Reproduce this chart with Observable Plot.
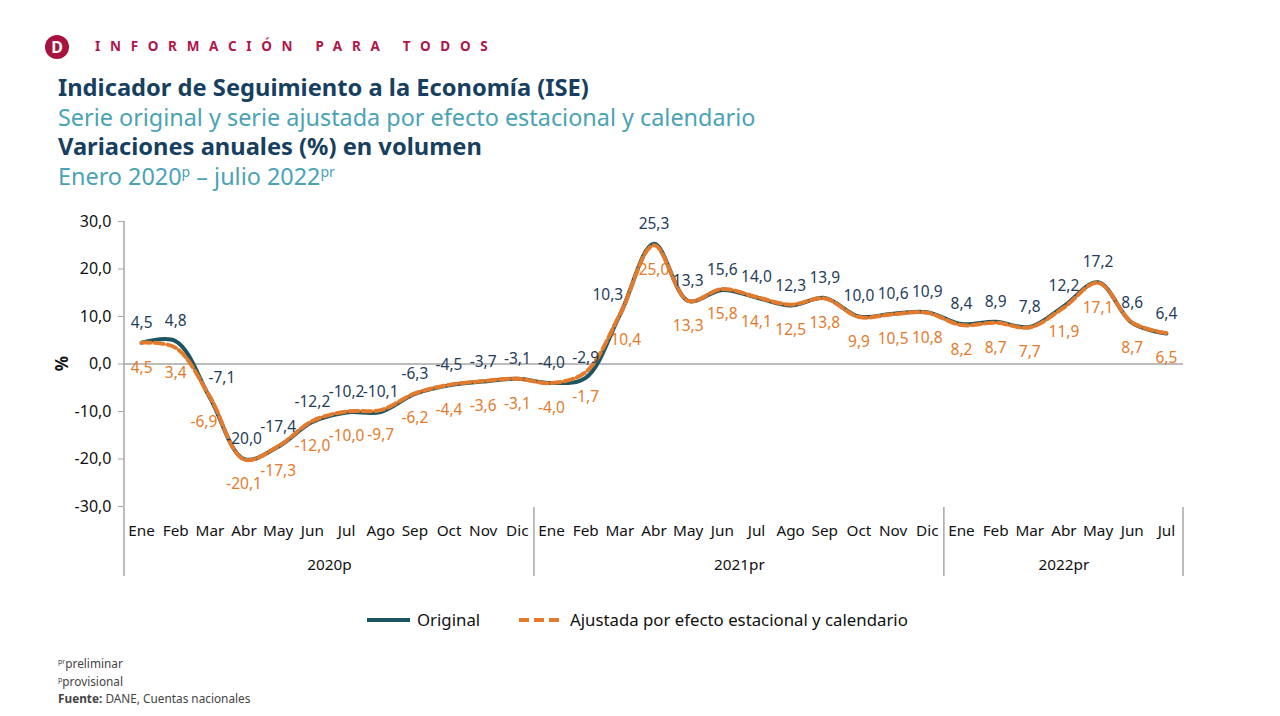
<!DOCTYPE html>
<html>
<head>
<meta charset="utf-8">
<script src="https://cdn.jsdelivr.net/npm/d3@7"></script>
<script src="https://cdn.jsdelivr.net/npm/@observablehq/plot@0.6"></script>
<style>
  html, body { margin: 0; padding: 0; background: #fff; }
  body { width: 1280px; height: 716px; position: relative; overflow: hidden; font-family: "Noto Sans", "Open Sans", sans-serif; }
  .abs { position: absolute; white-space: nowrap; }
  #logo { left: 45px; top: 35px; width: 24px; height: 24px; border-radius: 50%; background: #a8123f; color: #fff; font-weight: 700; font-size: 16px; line-height: 24px; text-align: center; }
  #brand { left: 95px; top: 37px; font-size: 13.5px; font-weight: 700; letter-spacing: 9.7px; color: #b0154b; }
  .t1 { left: 58px; font-size: 23.7px; font-weight: 700; color: #173f5f; line-height: 27px; }
  .t2 { left: 58px; font-size: 23.4px; color: #4aa3b4; line-height: 27px; }
  sup { font-size: 60%; vertical-align: 0.55em; line-height: 0; }
  #chart { left: 0; top: 200px; }
  .legend { top: 608px; font-size: 16.8px; color: #111; display: flex; align-items: center; }
  .foot { left: 58px; font-size: 11.8px; color: #444; }
</style>
</head>
<body>
<div id="logo" class="abs">D</div>
<div id="brand" class="abs">INFORMACIÓN PARA TODOS</div>
<div class="abs t1" style="top:73.5px">Indicador de Seguimiento a la Economía (ISE)</div>
<div class="abs t2" style="top:103.5px">Serie original y serie ajustada por efecto estacional y calendario</div>
<div class="abs t1" style="top:133px">Variaciones anuales (%) en volumen</div>
<div class="abs t2" style="top:163px">Enero 2020<sup>p</sup> – julio 2022<sup>pr</sup></div>
<div id="chart" class="abs"></div>
<div class="abs legend" style="left:366px">
  <svg width="46" height="10"><line x1="1" y1="5" x2="44" y2="5" stroke="#1b5561" stroke-width="4"/></svg>
  <span style="margin-left:5px">Original</span>
</div>
<div class="abs legend" style="left:518px">
  <svg width="46" height="10"><line x1="1" y1="5" x2="44" y2="5" stroke="#e47b2c" stroke-width="4" stroke-dasharray="10,5"/></svg>
  <span style="margin-left:6px">Ajustada por efecto estacional y calendario</span>
</div>
<div class="abs foot" style="top:655px"><sup>pr</sup>preliminar</div>
<div class="abs foot" style="top:673px"><sup>p</sup>provisional</div>
<div class="abs foot" style="top:690px"><b>Fuente:</b> DANE, Cuentas nacionales</div>
<script>
const monthNames = ["Ene","Feb","Mar","Abr","May","Jun","Jul","Ago","Sep","Oct","Nov","Dic"];
const periodMonths = [...monthNames, ...monthNames, "Ene","Feb","Mar","Abr","May","Jun","Jul"];
const original = [4.5,4.8,-7.1,-20.0,-17.4,-12.2,-10.2,-10.1,-6.3,-4.5,-3.7,-3.1,
                  -4.0,-2.9,10.3,25.3,13.3,15.6,14.0,12.3,13.9,10.0,10.6,10.9,
                  8.4,8.9,7.8,12.2,17.2,8.6,6.4];
const adjusted = [4.5,3.4,-6.9,-20.1,-17.3,-12.0,-10.0,-9.7,-6.2,-4.4,-3.6,-3.1,
                  -4.0,-1.7,10.4,25.0,13.3,15.8,14.1,12.5,13.8,9.9,10.5,10.8,
                  8.2,8.7,7.7,11.9,17.1,8.7,6.5];
const yearLabels = ["2020p","2021pr","2022pr"];
const yearStart = [0, 12, 24];
const yearEnd = [11, 23, 30];
const yTicks = [-30,-20,-10,0,10,20,30];

const fmt = v => (v < 0 ? "-" : "") + Math.abs(v).toFixed(1).replace(".", ",");
const idx = d3.range(periodMonths.length);
// slope of the series around each point: labels on steep segments are nudged sideways
const slope = (arr, i) => ((arr[Math.min(i + 1, arr.length - 1)] - arr[Math.max(i - 1, 0)]) / 2);
const steepSign = (arr, i) => Math.abs(slope(arr, i)) > 10 ? Math.sign(slope(arr, i)) : 0;
const origData = idx.map(i => ({i, v: original[i], s: steepSign(original, i)}));
const adjData = idx.map(i => ({i, v: adjusted[i], s: steepSign(adjusted, i)}));
const years = yearLabels.map((label, k) => ({label, c: (yearStart[k] + yearEnd[k]) / 2}));
const seps = [yearStart[0] - 0.5, ...yearEnd.map(e => e + 0.5)];

const navy = "#1f3d5a", teal = "#1b5561", orange = "#e47b2c";
const labelMarks = (data, fill, dy, side) => [-1, 0, 1].map(s =>
  Plot.text(data.filter(d => d.s === s), {x: "i", y: "v", text: d => fmt(d.v), dy, dx: side * s * (side < 0 ? 12 : 6), fill, fontSize: 15.5}));

const chart = Plot.plot({
  width: 1280, height: 390,
  marginLeft: 124, marginRight: 97, marginTop: 21, marginBottom: 84,
  style: {fontFamily: "Noto Sans, sans-serif", fontSize: "15px", color: "#111", background: "transparent"},
  x: {domain: [-0.5, periodMonths.length - 0.5], axis: null},
  y: {domain: [-30, 30], axis: null},
  marks: [
    Plot.ruleY([0], {stroke: "#a6a6a6", strokeWidth: 1.5}),
    Plot.axisY({ticks: yTicks, tickFormat: fmt, tickSize: 6, tickPadding: 7, stroke: "#a6a6a6", fontSize: 16, label: null}),
    Plot.axisX({ticks: idx, tickFormat: i => periodMonths[i], tickSize: 0, tickPadding: 19, fontSize: 15.3, label: null}),
    Plot.text(years, {x: "c", text: "label", frameAnchor: "bottom", dy: 63, fontSize: 15.3, fill: "#111"}),
    Plot.line(origData, {x: "i", y: "v", stroke: teal, strokeWidth: 4, curve: "catmull-rom"}),
    Plot.line(adjData, {x: "i", y: "v", stroke: orange, strokeWidth: 4, strokeDasharray: "9,4", curve: "catmull-rom"}),
    ...labelMarks(origData, navy, -20, -1),
    ...labelMarks(adjData, orange, 25, 1)
  ]
});
// separators and y-axis line drawn with the chart's own scales
const xs = chart.scale("x"), ys = chart.scale("y");
const svg = d3.select(chart);
const yTop = ys.apply(30), yBot = ys.apply(-30);
svg.append("line").attr("x1", xs.apply(-0.5)).attr("x2", xs.apply(-0.5))
  .attr("y1", yTop).attr("y2", yBot).attr("stroke", "#a6a6a6").attr("stroke-width", 1.5);
svg.selectAll("line.sep").data(seps).join("line").attr("class", "sep")
  .attr("x1", d => xs.apply(d)).attr("x2", d => xs.apply(d))
  .attr("y1", yBot + 1).attr("y2", yBot + 70).attr("stroke", "#a6a6a6").attr("stroke-width", 1.5);
svg.append("text").attr("transform", `translate(62,${ys.apply(0)}) rotate(-90)`)
  .attr("text-anchor", "middle").attr("dy", "0.35em")
  .attr("font-weight", 700).attr("font-size", 17).attr("fill", "#111").text("%");
document.getElementById("chart").appendChild(chart);
</script>
</body>
</html>
